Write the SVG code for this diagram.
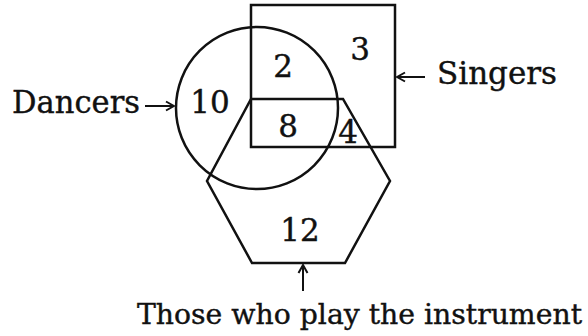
<svg xmlns="http://www.w3.org/2000/svg" width="588" height="336" viewBox="0 0 588 336">
<style>
.shape{fill:none;stroke:#111;stroke-width:2.5}
.lbl{font-family:"DejaVu Serif","Liberation Serif",serif;font-size:31px;fill:#111;stroke:#111;stroke-width:0.4}
.num{font-family:"DejaVu Serif","Liberation Serif",serif;font-size:31px;fill:#111;stroke:#111;stroke-width:0.4;text-anchor:middle}
.arr{fill:none;stroke:#111;stroke-width:2}
</style>
<defs>
<marker id="ah" viewBox="0 0 12 12" refX="11" refY="6" markerWidth="12" markerHeight="12" markerUnits="userSpaceOnUse" orient="auto">
<polyline points="3,1.5 11,6 3,10.5" fill="none" stroke="#111" stroke-width="2"/>
</marker>
</defs>
<rect width="588" height="336" fill="#fff"/>
<g id="singers">
<rect class="shape" x="251" y="5" width="144" height="142"/>
</g>
<g id="dancers">
<circle class="shape" cx="257" cy="108" r="81"/>
</g>
<g id="instrument">
<polygon class="shape" points="251,99 343,99 390,181 345,263 252,263 207,181"/>
</g>
<g id="numbers">
<text class="num" x="283" y="77">2</text>
<text class="num" x="360" y="60">3</text>
<text class="num" x="210" y="113">10</text>
<text class="num" x="288" y="137">8</text>
<text class="num" x="348" y="143">4</text>
<text class="num" x="300" y="241">12</text>
</g>
<g id="labels">
<text class="lbl" x="12" y="113" textLength="128" lengthAdjust="spacingAndGlyphs">Dancers</text>
<text class="lbl" x="437" y="84" textLength="120" lengthAdjust="spacingAndGlyphs">Singers</text>
<text class="lbl" x="137" y="324" style="font-size:28px" textLength="445" lengthAdjust="spacingAndGlyphs">Those who play the instrument</text>
</g>
<g id="connectors">
<line class="arr" x1="145" y1="106" x2="174" y2="106" marker-end="url(#ah)"/>
<line class="arr" x1="425" y1="77" x2="397" y2="77" marker-end="url(#ah)"/>
<line class="arr" x1="303" y1="291" x2="303" y2="265" marker-end="url(#ah)"/>
</g>
</svg>
